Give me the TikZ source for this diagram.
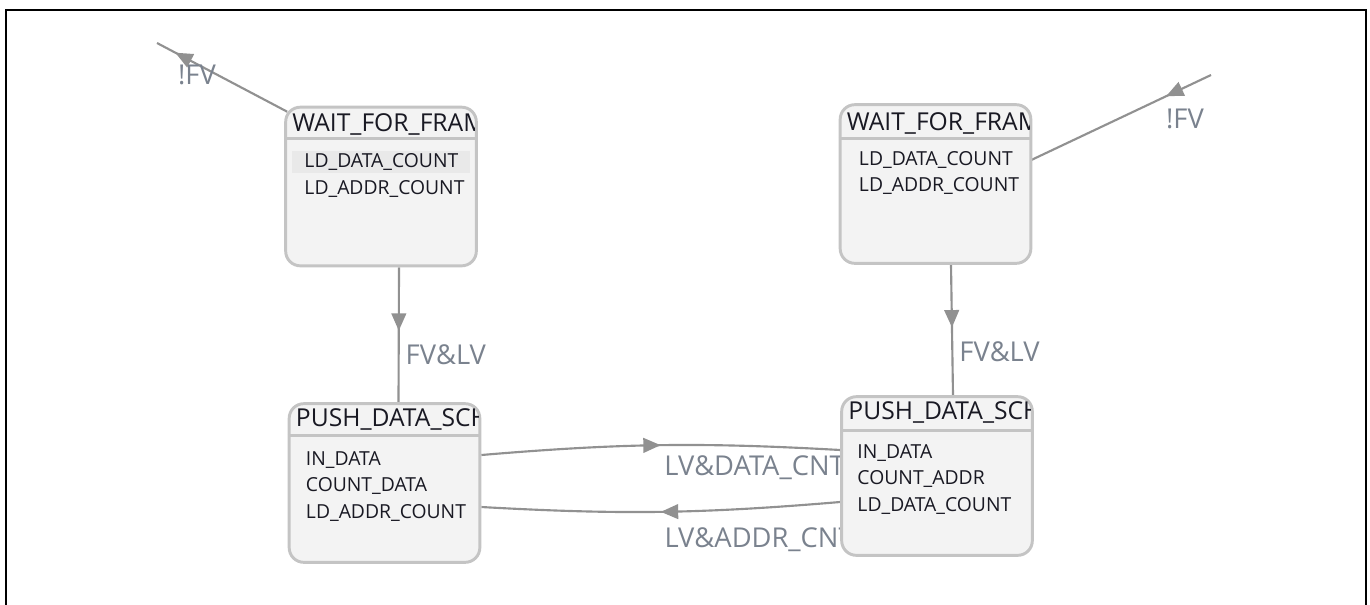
\documentclass[tikz,border=0pt]{standalone}
\usepackage{fontspec}
\setmainfont{Open Sans}
\usetikzlibrary{arrows.meta,calc,positioning,backgrounds,decorations.markings}

\definecolor{boxline}{RGB}{196,196,196}
\definecolor{boxfill}{RGB}{243,243,243}
\definecolor{rowfill}{RGB}{233,233,233}
\definecolor{edgeline}{RGB}{145,145,145}
\definecolor{labeltext}{RGB}{122,130,142}
\definecolor{statetext}{RGB}{25,25,35}

\tikzset{
  statebox/.style={rectangle, rounded corners=11pt, draw=boxline, fill=boxfill,
    line width=2.2pt, minimum width=143pt, minimum height=119pt, inner sep=0pt},
  divider/.style={draw=boxline, line width=2.2pt},
  title/.style={anchor=base west, inner sep=0pt, text=statetext,
    font=\fontsize{18.5}{21}\selectfont},
  body/.style={anchor=north west, inner sep=0pt, align=left, text=statetext,
    font=\fontsize{14.5}{19.8}\selectfont},
  flow/.style={draw=edgeline, line width=1.6pt},
  midarrow/.style={postaction={decorate}, decoration={markings,
    mark=at position #1 with {\arrow[edgeline]{Triangle[length=13pt,width=11pt]}}}},
  lbl/.style={inner sep=0pt, text=labeltext, font=\fontsize{20.5}{23}\selectfont}
}

\begin{document}
\begin{tikzpicture}[x=0.75pt,y=-0.75pt]
\useasboundingbox (0,0) rectangle (1370,604);

% frame
\draw[line width=1.6pt] (6.3,606) -- (6.3,10) -- (1366,10) -- (1366,606);

% states
\node[statebox] (waitl) at (381,186.5) {};
\node[statebox] (waitr) at (935.5,184) {};
\node[statebox] (pushl) at (384.5,483) {};
\node[statebox] (pushr) at (937,476) {};

% selected row
\fill[rowfill] ($(waitl.north west)+(8,45)$) rectangle ($(waitl.north east)+(-8,67)$);

% dividers
\draw[divider] ($(waitl.north west)+(0,33)$) -- ($(waitl.north east)+(0,33)$);
\draw[divider] ($(waitr.north west)+(0,35)$) -- ($(waitr.north east)+(0,35)$);
\draw[divider] ($(pushl.north west)+(0,33)$) -- ($(pushl.north east)+(0,33)$);
\draw[divider] ($(pushr.north west)+(0,35)$) -- ($(pushr.north east)+(0,35)$);

% titles, cut at the box edge
\begin{scope}
\clip ($(waitl.north west)+(2,2)$) rectangle ($(waitl.east)+(-3,0)$);
\node[title] (waitlt) at ($(waitl.north west)+(8,26)$) {WAIT\_FOR\_FRAME};
\end{scope}
\begin{scope}
\clip ($(waitr.north west)+(2,2)$) rectangle ($(waitr.east)+(-3,0)$);
\node[title] (waitrt) at ($(waitr.north west)+(8,27)$) {WAIT\_FOR\_FRAME};
\end{scope}
\begin{scope}
\clip ($(pushl.north west)+(2,2)$) rectangle ($(pushl.east)+(-3,0)$);
\node[title] (pushlt) at ($(pushl.north west)+(8,24)$) {PUSH\_DATA\_SCHED};
\end{scope}
\begin{scope}
\clip ($(pushr.north west)+(2,2)$) rectangle ($(pushr.east)+(-3,0)$);
\node[title] (pushrt) at ($(pushr.north west)+(8,24)$) {PUSH\_DATA\_SCHED};
\end{scope}

% actions
\node[body] (waitlb) at ($(waitl.north west)+(20,48)$) {LD\_DATA\_COUNT\\LD\_ADDR\_COUNT};
\node[body] (waitrb) at ($(waitr.north west)+(20,48)$) {LD\_DATA\_COUNT\\LD\_ADDR\_COUNT};
\node[body] (pushlb) at ($(pushl.north west)+(18,49)$) {IN\_DATA\\COUNT\_DATA\\LD\_ADDR\_COUNT};
\node[body] (pushrb) at ($(pushr.north west)+(17,49)$) {IN\_DATA\\COUNT\_ADDR\\LD\_DATA\_COUNT};

% loose ends
\coordinate (fvl) at (157,43);
\coordinate (fvr) at (1211,75);

% transitions
\begin{scope}[on background layer]
\draw[flow, midarrow=0.86] ($(waitl.north west)+(3,6)$) -- (fvl);
\node[lbl] (fvllbl) at (197,75) {!FV};
\draw[flow, midarrow=0.25] (fvr) -- ($(waitr.east)+(-1,-24)$);
\node[lbl] (fvrlbl) at (1185,119) {!FV};
\draw[flow, midarrow=0.47] ($(waitl.south)+(18,0)$) -- node[lbl, pos=0.65, anchor=west, xshift=4.5pt] (fvlv1) {FV\&LV} ($(pushl.north)+(14,0)$);
\draw[flow, midarrow=0.48] ($(waitr.south)+(15.5,0)$) -- node[lbl, pos=0.67, anchor=west, xshift=4.5pt] (fvlv2) {FV\&LV} ($(pushr.north)+(16,0)$);
\draw[flow, midarrow=0.5] ($(pushl.east)+(0,-28)$) to[bend left=4] node[lbl, pos=0.5, anchor=west, xshift=2pt, yshift=-17pt] (datalbl) {LV\&DATA\_CNT} ($(pushr.west)+(0,-26)$);
\draw[flow, midarrow=0.5] ($(pushr.west)+(0,26)$) to[bend left=4] node[lbl, pos=0.5, anchor=west, xshift=2pt, yshift=-21pt] (addrlbl) {LV\&ADDR\_CNT} ($(pushl.east)+(0,24)$);
\end{scope}
\end{tikzpicture}
\end{document}
